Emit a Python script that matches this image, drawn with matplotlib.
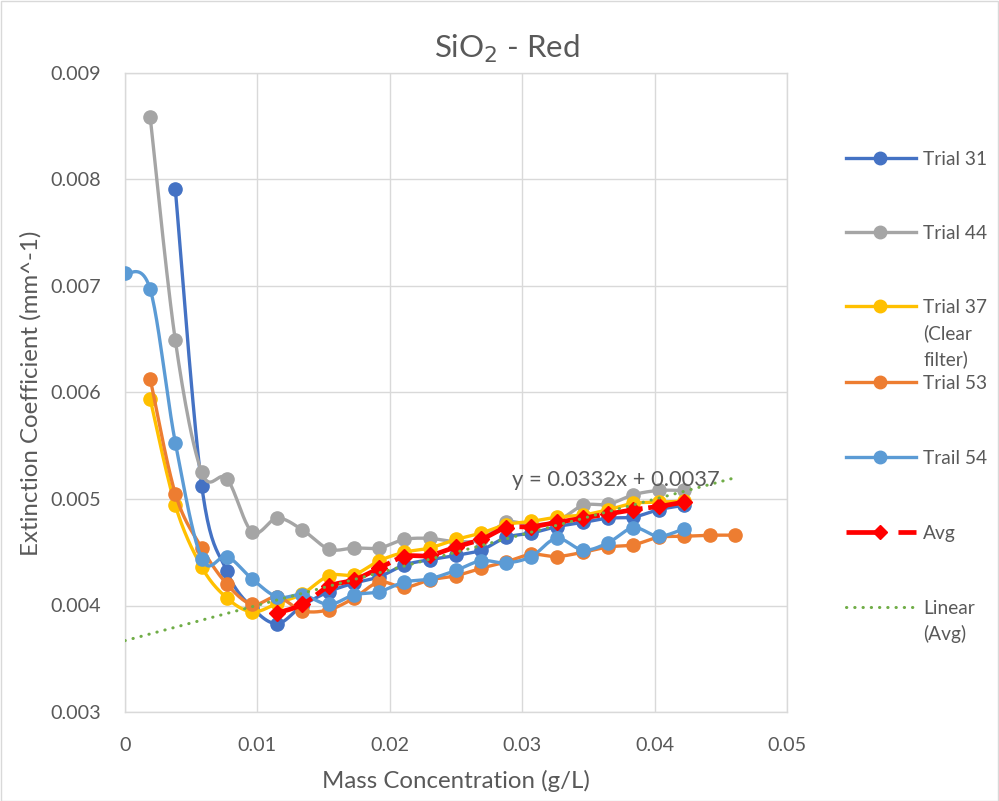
import numpy as np
import matplotlib
matplotlib.use("Agg")
import matplotlib.pyplot as plt
from matplotlib.lines import Line2D
from matplotlib.patches import Rectangle
from matplotlib.ticker import FuncFormatter, MultipleLocator

plt.rcParams['font.family'] = ['Lato', 'DejaVu Sans']

nan = np.nan
# Mass concentration (g/L)
conc = [0.0, 0.0019, 0.0038, 0.0058, 0.0077, 0.0096, 0.0115, 0.0134, 0.0154, 0.0173,
        0.0192, 0.0211, 0.0230, 0.0250, 0.0269, 0.0288, 0.0307, 0.0326, 0.0346, 0.0365,
        0.0384, 0.0403, 0.0422, 0.0442, 0.0461]

trial31 = [nan, nan, 0.00791, 0.00512, 0.00432, 0.00398, 0.00383, 0.00400, 0.00413, 0.00421,
           0.00427, 0.00438, 0.00443, 0.00447, 0.00452, 0.00464, 0.00468, 0.00474, 0.00478, 0.00482,
           0.00483, 0.00490, 0.00494, nan, nan]
trial44 = [nan, 0.00859, 0.00649, 0.00525, 0.00519, 0.00469, 0.00482, 0.00471, 0.00453, 0.00454,
           0.00454, 0.00462, 0.00463, 0.00460, 0.00462, 0.00478, 0.00476, 0.00479, 0.00494, 0.00495,
           0.00504, 0.00508, 0.00508, nan, nan]
trial37 = [nan, 0.00594, 0.00494, 0.00436, 0.00407, 0.00394, 0.00402, 0.00411, 0.00428, 0.00429,
           0.00442, 0.00450, 0.00454, 0.00462, 0.00468, 0.00476, 0.00479, 0.00483, 0.00485, 0.00490,
           0.00496, 0.00497, 0.00498, nan, nan]
trial53 = [nan, 0.00613, 0.00505, 0.00454, 0.00420, 0.00401, 0.00408, 0.00395, 0.00396, 0.00407,
           0.00422, 0.00417, 0.00424, 0.00428, 0.00435, 0.00441, 0.00448, 0.00446, 0.00450, 0.00455,
           0.00457, 0.00464, 0.00465, 0.00466, 0.00466]
trail54 = [0.00712, 0.00697, 0.00553, 0.00444, 0.00446, 0.00425, 0.00408, 0.00410, 0.00401, 0.00410,
           0.00413, 0.00422, 0.00425, 0.00433, 0.00442, 0.00440, 0.00446, 0.00463, 0.00452, 0.00459,
           0.00473, 0.00465, 0.00472, nan, nan]
avg = [nan, nan, nan, nan, nan, nan, 0.00393, 0.00401, 0.00418, 0.00424,
       0.00435, 0.00446, 0.00447, 0.00455, 0.00462, 0.00473, 0.00474, 0.00478, 0.00482, 0.00486,
       0.00490, 0.00493, 0.00497, nan, nan]

trend_slope = 0.0332
trend_intercept = 0.00367
trend_label = "y = 0.0332x + 0.0037"
trend_x_end = 0.0458

series = [
    ("Trial 31", trial31, "#4472C4"),
    ("Trial 44", trial44, "#A5A5A5"),
    ("Trial 37\n(Clear\nfilter)", trial37, "#FFC000"),
    ("Trial 53", trial53, "#ED7D31"),
    ("Trail 54", trail54, "#5B9BD5"),
]


def smooth(xs, ys, n=24):
    xs = np.asarray(xs, float)
    ys = np.asarray(ys, float)
    m = ~np.isnan(ys)
    xs, ys = xs[m], ys[m]
    P = np.column_stack([xs, ys])
    out = [P[0]]
    k = len(P)
    for i in range(k - 1):
        p0 = P[i - 1] if i > 0 else P[i]
        p1 = P[i]
        p2 = P[i + 1]
        p3 = P[i + 2] if i + 2 < k else P[i + 1]
        c1 = p1 + (p2 - p0) / 6.0
        c2 = p2 - (p3 - p1) / 6.0
        t = np.linspace(0, 1, n)[1:, None]
        seg = ((1 - t) ** 3) * p1 + 3 * ((1 - t) ** 2) * t * c1 + 3 * (1 - t) * t ** 2 * c2 + t ** 3 * p2
        out.extend(seg)
    out = np.array(out)
    return out[:, 0], out[:, 1], xs, ys


def xfmt(v, p):
    if abs(v) < 1e-12:
        return "0"
    return f"{v:.2f}"


W, H = 999, 801
fig = plt.figure(figsize=(W / 100, H / 100), dpi=100)
ax = fig.add_axes([125 / W, 1 - 712 / H, (787 - 125) / W, (712 - 73) / H])

grey_txt = "#595959"
grid_c = "#D9D9D9"

ax.set_xlim(0, 0.05)
ax.set_ylim(0.003, 0.009)
ax.xaxis.set_major_locator(MultipleLocator(0.01))
ax.yaxis.set_major_locator(MultipleLocator(0.001))
ax.xaxis.set_major_formatter(FuncFormatter(xfmt))
ax.yaxis.set_major_formatter(FuncFormatter(lambda v, p: f"{v:.3f}"))
ax.grid(True, color=grid_c, lw=1.0, zorder=0)
ax.set_axisbelow(True)
for s in ax.spines.values():
    s.set_color(grid_c)
    s.set_linewidth(1.0)
ax.tick_params(length=0, colors=grey_txt, labelsize=14.2)
ax.tick_params(axis='y', pad=17)
ax.tick_params(axis='x', pad=18)

z = 3
for name, ys, col in series:
    sx, sy, px, py = smooth(conc, ys)
    ax.plot(sx, sy, color=col, lw=2.4, zorder=z, solid_capstyle='round')
    ax.plot(px, py, ls='none', marker='o', ms=9.5, color=col, mec=col, zorder=z + 0.5)
    z += 1

# Avg series
sx, sy, px, py = smooth(conc, avg)
ax.plot(sx, sy, color="#FF0000", lw=3.4, ls=(0, (8, 1.2)), zorder=z)
ax.plot(px, py, ls='none', marker='D', ms=8.5, color="#FF0000", mec="#FF0000", zorder=z + 0.5)
z += 1

# Linear trendline of Avg
tx = np.array([0.0, trend_x_end])
ax.plot(tx, trend_slope * tx + trend_intercept, color="#70AD47", lw=2.2,
        ls=(0, (0.1, 2.6)), dash_capstyle='round', zorder=z)
ax.text(0.0292, 0.00518, trend_label, color=grey_txt, fontsize=15.8, va='center', ha='left', zorder=z + 1)

# Titles
fig.text(0.507, 1 - 49 / H, "SiO$_2$ - Red", ha='center', va='center', fontsize=22.5, color=grey_txt)
fig.text((125 + 787) / 2 / W, 1 - 781 / H, "Mass Concentration (g/L)", ha='center', va='center',
         fontsize=17.3, color=grey_txt)
fig.text(31 / W, 1 - 393 / H, "Extinction Coefficient (mm^-1)", ha='center', va='center',
         rotation=90, fontsize=17.3, color=grey_txt)

# Legend (manual)
leg_entries = [(s[0], s[2], 'o', '-') for s in series] + [("Avg", "#FF0000", 'D', (0, (8, 3))),
                                                          ("Linear\n(Avg)", "#70AD47", None, (0, (0.1, 2.6)))]
leg_y = [158, 232, 306, 382, 457, 532, 607]
for (lab, col, mk, ls), yp in zip(leg_entries, leg_y):
    yf = 1 - yp / H
    if mk is None:
        fig.add_artist(Line2D([846 / W, 916 / W], [yf, yf], color=col, lw=2.2, ls=ls,
                              dash_capstyle='round'))
    elif mk == 'D':
        fig.add_artist(Line2D([846 / W, 916 / W], [yf, yf], color=col, lw=3.4, ls=ls))
        fig.add_artist(Line2D([880 / W], [yf], color=col, marker='D', ms=7.5, mec=col, ls='none'))
    else:
        fig.add_artist(Line2D([846 / W, 916 / W], [yf, yf], color=col, lw=2.4))
        fig.add_artist(Line2D([880 / W], [yf], color=col, marker='o', ms=9, mec=col, ls='none'))
    fig.text(923 / W, yf + 7 / H, lab, ha='left', va='top', fontsize=13.8, color=grey_txt,
             linespacing=1.56)

fig.add_artist(Rectangle((0.5 / W, 0.5 / H), 1 - 1.5 / W, 1 - 1.5 / H, transform=fig.transFigure,
                         fill=False, ec=grid_c, lw=1.0))

fig.savefig("out.png", dpi=100, facecolor='white')
